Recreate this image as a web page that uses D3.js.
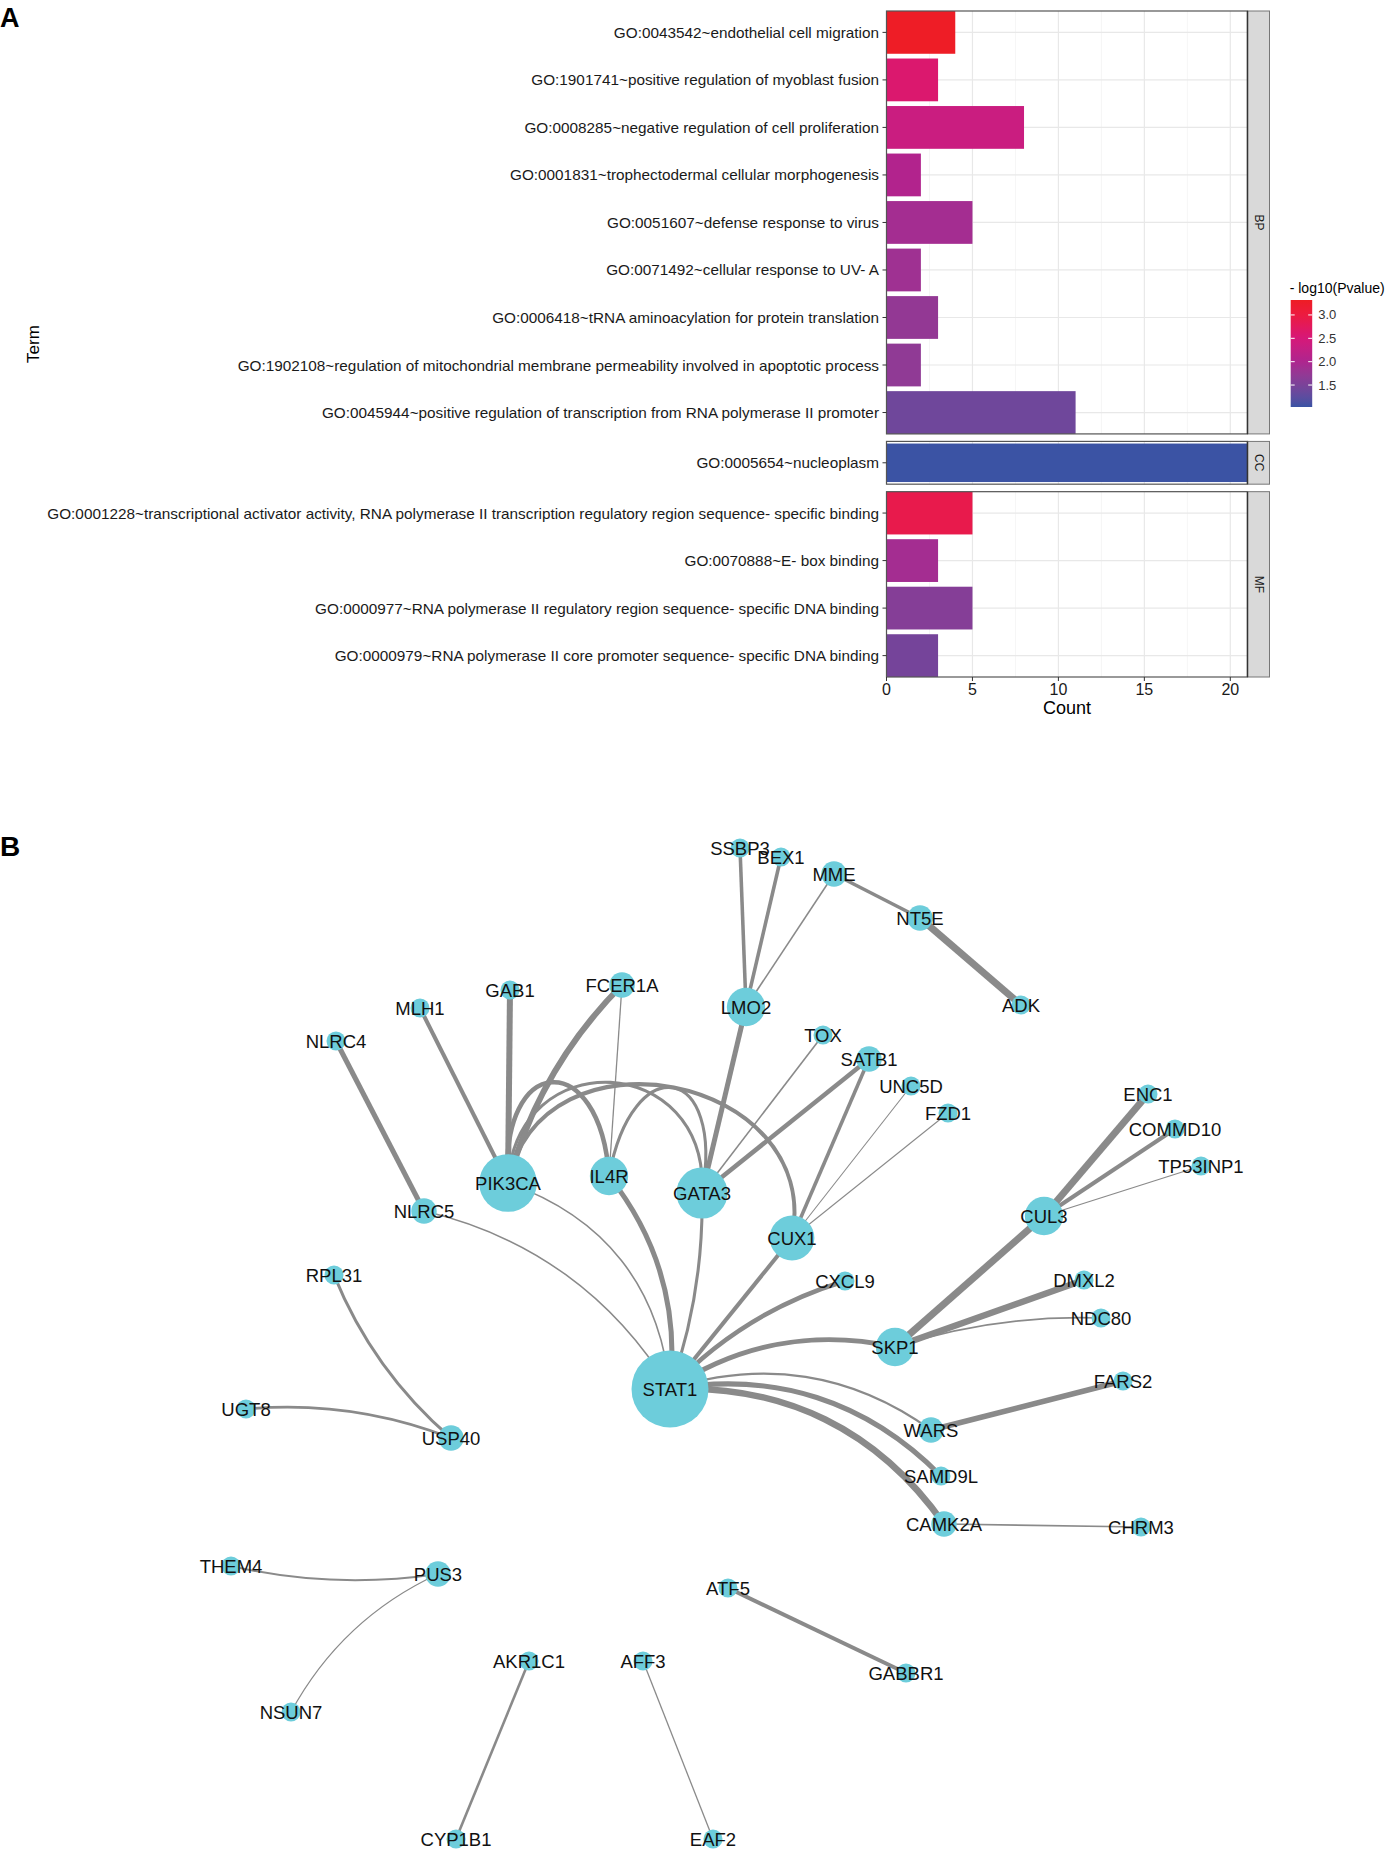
<!DOCTYPE html>
<html>
<head>
<meta charset="utf-8">
<script src="https://cdn.jsdelivr.net/npm/d3@7"></script>
<style>
body{margin:0;background:#fff}
svg{display:block}
text{font-family:"Liberation Sans",Arial,Helvetica,sans-serif}
</style>
</head>
<body>
<svg id="chart" width="1385" height="1851"></svg>
<script>
// ---- panel A data ----
var bpTerms = [
  'GO:0043542~endothelial cell migration',
  'GO:1901741~positive regulation of myoblast fusion',
  'GO:0008285~negative regulation of cell proliferation',
  'GO:0001831~trophectodermal cellular morphogenesis',
  'GO:0051607~defense response to virus',
  'GO:0071492~cellular response to UV- A',
  'GO:0006418~tRNA aminoacylation for protein translation',
  'GO:1902108~regulation of mitochondrial membrane permeability involved in apoptotic process',
  'GO:0045944~positive regulation of transcription from RNA polymerase II promoter'
]
var bpCounts = [4, 3, 8, 2, 5, 2, 3, 2, 11]
var bpLogP = [3.3, 2.6, 2.35, 2.05, 1.9, 1.85, 1.73, 1.7, 1.4]

var ccTerms = ['GO:0005654~nucleoplasm']
var ccCounts = [21]
var ccLogP = [1.04]

var mfTerms = [
  'GO:0001228~transcriptional activator activity, RNA polymerase II transcription regulatory region sequence- specific binding',
  'GO:0070888~E- box binding',
  'GO:0000977~RNA polymerase II regulatory region sequence- specific DNA binding',
  'GO:0000979~RNA polymerase II core promoter sequence- specific DNA binding'
]
var mfCounts = [5, 3, 5, 3]
var mfLogP = [2.9, 1.9, 1.6, 1.45]

var countTicks = [0, 5, 10, 15, 20]
var legendTicks = [1.5, 2.0, 2.5, 3.0]

// ---- panel B data ----
var geneNames = ['STAT1','PIK3CA','IL4R','GATA3','CUX1','NLRC5','NLRC4','MLH1','GAB1','FCER1A',
  'LMO2','SSBP3','BEX1','MME','NT5E','ADK','TOX','SATB1','UNC5D','FZD1',
  'ENC1','COMMD10','TP53INP1','CUL3','CXCL9','DMXL2','NDC80','SKP1','FARS2','WARS',
  'SAMD9L','CAMK2A','CHRM3','RPL31','UGT8','USP40','THEM4','PUS3','NSUN7','AKR1C1',
  'CYP1B1','AFF3','EAF2','ATF5','GABBR1']
// layout coordinates (network layout units)
var geneX = [670,508,609,702,792,424,336,420,510,622,
  746,740,781,834,920,1021,823,869,911,948,
  1148,1175,1201,1044,845,1084,1101,895,1123,931,
  941,944,1141,334,246,451,231,438,291,529,
  456,643,713,728,906]
var geneY = [589,383,376,393,438,411,241,208,190,185,
  207,48,57,74,118,205,235,259,286,313,
  294,329,366,416,481,480,518,547,581,630,
  676,724,727,475,609,638,766,774,912,861,
  1039,861,1039,788,873]

// [source, target, weight]
var links = [
  ['NLRC4','NLRC5',5], ['MLH1','PIK3CA',4], ['GAB1','PIK3CA',6], ['FCER1A','PIK3CA',6],
  ['FCER1A','IL4R',1.2], ['PIK3CA','IL4R',4.5], ['PIK3CA','GATA3',3], ['PIK3CA','CUX1',4],
  ['IL4R','GATA3',3], ['LMO2','SSBP3',3.5], ['LMO2','BEX1',3.5], ['LMO2','MME',1.5],
  ['MME','NT5E',3.5], ['NT5E','ADK',7], ['LMO2','GATA3',5], ['TOX','GATA3',1.5],
  ['SATB1','GATA3',4.5], ['SATB1','CUX1',3.5], ['UNC5D','CUX1',1], ['FZD1','CUX1',1],
  ['CUX1','STAT1',4], ['GATA3','STAT1',3], ['IL4R','STAT1',5], ['PIK3CA','STAT1',1.5],
  ['NLRC5','STAT1',1.5], ['STAT1','CXCL9',4.5], ['STAT1','SKP1',5], ['STAT1','WARS',2],
  ['STAT1','SAMD9L',5], ['STAT1','CAMK2A',6.5], ['WARS','FARS2',5.5], ['CAMK2A','CHRM3',1.5],
  ['SKP1','CUL3',7], ['SKP1','DMXL2',6.5], ['SKP1','NDC80',1.5], ['CUL3','ENC1',7],
  ['CUL3','COMMD10',4], ['CUL3','TP53INP1',1.2], ['RPL31','USP40',3], ['UGT8','USP40',2.5],
  ['THEM4','PUS3',1.8], ['PUS3','NSUN7',1.2], ['AKR1C1','CYP1B1',2.5], ['AFF3','EAF2',1.2],
  ['ATF5','GABBR1',4]
]

// edge curvature (drawing style only)
var curves = {
  'PIK3CA-IL4R': {b: -130, s: 0}, 'PIK3CA-GATA3': {b: -141, s: 0},
  'PIK3CA-CUX1': {b: -167, s: 0}, 'IL4R-GATA3': {b: -131, s: 0},
  'FCER1A-PIK3CA': {b: 20}, 'NLRC5-STAT1': {b: -42}, 'PIK3CA-STAT1': {b: -55},
  'IL4R-STAT1': {b: -30}, 'GATA3-STAT1': {b: -12}, 'STAT1-CXCL9': {b: -18},
  'STAT1-SKP1': {b: -32}, 'STAT1-WARS': {b: -44}, 'STAT1-SAMD9L': {b: -49},
  'STAT1-CAMK2A': {b: -55}, 'SKP1-NDC80': {b: -12}, 'RPL31-USP40': {b: 16},
  'UGT8-USP40': {b: -16}, 'THEM4-PUS3': {b: 13}, 'PUS3-NSUN7': {b: 22}
}

var svg = d3.select('#chart')

// ================= panel A =================
var facets = [
  {name: 'BP', terms: bpTerms, counts: bpCounts, logp: bpLogP},
  {name: 'CC', terms: ccTerms, counts: ccCounts, logp: ccLogP},
  {name: 'MF', terms: mfTerms, counts: mfCounts, logp: mfLogP}
]

var plotLeft = 886.5, plotRight = 1247.5, plotTop = 11, plotBottom = 677, facetGap = 7.5
var stripW = 22

var x = d3.scaleLinear().domain([0, 21]).range([plotLeft, plotRight])
var fill = d3.scaleLinear()
  .domain([1.03, 1.5, 2.0, 2.5, 3.0, 3.32])
  .range(['#3953a4', '#7a4299', '#ae248f', '#d61879', '#ec1b40', '#ee1d24'])
  .interpolate(d3.interpolateLab)

var totalUnits = d3.sum(facets, function(f){ return f.terms.length - 0.1 })
var unit = (plotBottom - plotTop - facetGap * (facets.length - 1)) / totalUnits

var gA = svg.append('g')
gA.append('text').attr('x', 0).attr('y', 27)
  .attr('font-size', '27px').attr('font-weight', 'bold').text('A')

var yCursor = plotTop
var labelNodes = []
facets.forEach(function(f, fi){
  var h = (f.terms.length - 0.1) * unit
  var y = d3.scaleBand().domain(f.terms).range([yCursor, yCursor + h]).paddingInner(0.1).paddingOuter(0)
  var g = gA.append('g')

  g.append('rect').attr('x', plotLeft).attr('y', yCursor).attr('width', plotRight - plotLeft).attr('height', h)
    .attr('fill', '#fff')

  // grid
  g.selectAll('line.minor').data([2.5, 7.5, 12.5, 17.5]).enter().append('line')
    .attr('x1', function(d){ return x(d) }).attr('x2', function(d){ return x(d) })
    .attr('y1', yCursor).attr('y2', yCursor + h)
    .attr('stroke', '#f3f3f3').attr('stroke-width', 0.8)
  g.selectAll('line.major').data(countTicks).enter().append('line')
    .attr('x1', function(d){ return x(d) }).attr('x2', function(d){ return x(d) })
    .attr('y1', yCursor).attr('y2', yCursor + h)
    .attr('stroke', '#e8e8e8').attr('stroke-width', 1.2)
  g.selectAll('line.hgrid').data(f.terms).enter().append('line')
    .attr('x1', plotLeft).attr('x2', plotRight)
    .attr('y1', function(d){ return y(d) + y.bandwidth() / 2 })
    .attr('y2', function(d){ return y(d) + y.bandwidth() / 2 })
    .attr('stroke', '#e8e8e8').attr('stroke-width', 1.2)

  // bars
  g.selectAll('rect.bar').data(f.terms).enter().append('rect')
    .attr('class', 'bar')
    .attr('x', x(0))
    .attr('y', function(d){ return y(d) })
    .attr('width', function(d, i){ return x(f.counts[i]) - x(0) })
    .attr('height', y.bandwidth())
    .attr('fill', function(d, i){ return fill(f.logp[i]) })

  // border
  g.append('rect').attr('x', plotLeft).attr('y', yCursor).attr('width', plotRight - plotLeft).attr('height', h)
    .attr('fill', 'none').attr('stroke', '#555').attr('stroke-width', 1.2)

  // strip
  g.append('rect').attr('x', plotRight).attr('y', yCursor).attr('width', stripW).attr('height', h)
    .attr('fill', '#d9d9d9').attr('stroke', '#777').attr('stroke-width', 1)
  g.append('line').attr('x1', plotRight).attr('x2', plotRight).attr('y1', yCursor).attr('y2', yCursor + h)
    .attr('stroke', '#333').attr('stroke-width', 1.5)
  g.append('text')
    .attr('transform', 'translate(' + (plotRight + stripW / 2) + ',' + (yCursor + h / 2) + ') rotate(90)')
    .attr('text-anchor', 'middle').attr('dominant-baseline', 'central')
    .attr('font-size', '12px').attr('fill', '#1a1a1a').text(f.name)

  // y ticks and labels
  g.selectAll('line.ytick').data(f.terms).enter().append('line')
    .attr('x1', plotLeft - 4).attr('x2', plotLeft)
    .attr('y1', function(d){ return y(d) + y.bandwidth() / 2 })
    .attr('y2', function(d){ return y(d) + y.bandwidth() / 2 })
    .attr('stroke', '#333').attr('stroke-width', 1)
  g.selectAll('text.ylab').data(f.terms).enter().append('text')
    .attr('class', 'ylab')
    .attr('x', plotLeft - 7.5)
    .attr('y', function(d){ return y(d) + y.bandwidth() / 2 })
    .attr('text-anchor', 'end').attr('dominant-baseline', 'central')
    .attr('font-size', '14px').attr('fill', '#1a1a1a')
    .text(function(d){ return d })
    .each(function(){ labelNodes.push(this) })

  yCursor += h + facetGap
})

// fit label size to the reference width of the longest label
var longest = d3.max(labelNodes, function(n){ return n.getComputedTextLength() })
var fitSize = 14 * 832 / longest
labelNodes.forEach(function(n){ d3.select(n).attr('font-size', fitSize.toFixed(2) + 'px') })

// x axis
var xAxisG = gA.append('g').attr('transform', 'translate(0,' + plotBottom + ')')
xAxisG.selectAll('line').data(countTicks).enter().append('line')
  .attr('x1', function(d){ return x(d) }).attr('x2', function(d){ return x(d) })
  .attr('y1', 0).attr('y2', 4).attr('stroke', '#333')
xAxisG.selectAll('text').data(countTicks).enter().append('text')
  .attr('x', function(d){ return x(d) }).attr('y', 12.5)
  .attr('text-anchor', 'middle').attr('dominant-baseline', 'central')
  .attr('font-size', '16px').attr('fill', '#1a1a1a').text(function(d){ return d })
gA.append('text').attr('x', (plotLeft + plotRight) / 2).attr('y', 708)
  .attr('text-anchor', 'middle').attr('dominant-baseline', 'central')
  .attr('font-size', '18px').attr('fill', '#000').text('Count')
gA.append('text')
  .attr('transform', 'translate(33,' + ((plotTop + plotBottom) / 2) + ') rotate(-90)')
  .attr('text-anchor', 'middle').attr('dominant-baseline', 'central')
  .attr('font-size', '17px').attr('fill', '#000').text('Term')

// legend
var legX = 1290.7, legW = 21.5
var legY = d3.scaleLinear().domain([1.03, 3.32]).range([407, 300])
var defs = svg.append('defs')
var grad = defs.append('linearGradient').attr('id', 'legGrad')
  .attr('x1', 0).attr('y1', 1).attr('x2', 0).attr('y2', 0)
d3.range(0, 1.0001, 0.05).forEach(function(t){
  grad.append('stop').attr('offset', t).attr('stop-color', fill(legY.domain()[0] + t * (legY.domain()[1] - legY.domain()[0])))
})
gA.append('text').attr('x', legX - 1).attr('y', 288)
  .attr('dominant-baseline', 'central').attr('font-size', '14px').attr('fill', '#000')
  .text('- log10(Pvalue)')
gA.append('rect').attr('x', legX).attr('y', legY(3.32)).attr('width', legW)
  .attr('height', legY(1.03) - legY(3.32)).attr('fill', 'url(#legGrad)')
legendTicks.forEach(function(t){
  gA.append('line').attr('x1', legX).attr('x2', legX + 4).attr('y1', legY(t)).attr('y2', legY(t))
    .attr('stroke', '#fff').attr('stroke-width', 1)
  gA.append('line').attr('x1', legX + legW - 4).attr('x2', legX + legW).attr('y1', legY(t)).attr('y2', legY(t))
    .attr('stroke', '#fff').attr('stroke-width', 1)
  gA.append('text').attr('x', legX + legW + 6).attr('y', legY(t))
    .attr('dominant-baseline', 'central').attr('font-size', '13px').attr('fill', '#333')
    .text(t.toFixed(1))
})

// ================= panel B =================
var gB = svg.append('g')
gB.append('text').attr('x', 0).attr('y', 856)
  .attr('font-size', '28px').attr('font-weight', 'bold').text('B')

var nx = d3.scaleLinear().domain([0, 1385]).range([0, 1385])
var ny = d3.scaleLinear().domain([0, 1051]).range([800, 1851])

var nodes = geneNames.map(function(n, i){ return {id: n, x: nx(geneX[i]), y: ny(geneY[i]), deg: 0} })
var byId = {}
nodes.forEach(function(n){ byId[n.id] = n })
links.forEach(function(l){ byId[l[0]].deg++; byId[l[1]].deg++ })

var radius = d3.scaleLinear().domain([1, 10]).range([9.5, 38.5])
var width = d3.scaleLinear().domain([1, 7]).range([1.1, 7])

function edgePath(l){
  var p0 = byId[l[0]], p1 = byId[l[1]]
  var c = curves[l[0] + '-' + l[1]]
  var p = d3.path()
  p.moveTo(p0.x, p0.y)
  if(!c){
    p.lineTo(p1.x, p1.y)
    return p.toString()
  }
  var dx = p1.x - p0.x, dy = p1.y - p0.y
  var len = Math.sqrt(dx * dx + dy * dy)
  var ux = -dy / len, uy = dx / len
  var s = c.s != null ? c.s : 0.33
  p.bezierCurveTo(p0.x + dx * s + ux * c.b, p0.y + dy * s + uy * c.b,
    p1.x - dx * s + ux * c.b, p1.y - dy * s + uy * c.b, p1.x, p1.y)
  return p.toString()
}

gB.selectAll('path.edge').data(links).enter().append('path')
  .attr('class', 'edge')
  .attr('d', edgePath)
  .attr('fill', 'none')
  .attr('stroke', '#8a8a8a')
  .attr('stroke-width', function(d){ return width(d[2]) })

gB.selectAll('circle.node').data(nodes).enter().append('circle')
  .attr('class', 'node')
  .attr('cx', function(d){ return d.x })
  .attr('cy', function(d){ return d.y })
  .attr('r', function(d){ return radius(d.deg) })
  .attr('fill', '#6dcddb')

gB.selectAll('text.node').data(nodes).enter().append('text')
  .attr('class', 'node')
  .attr('x', function(d){ return d.x })
  .attr('y', function(d){ return d.y })
  .attr('text-anchor', 'middle').attr('dominant-baseline', 'central')
  .attr('font-size', '18.5px').attr('fill', '#111')
  .text(function(d){ return d.id })
</script>
</body>
</html>
